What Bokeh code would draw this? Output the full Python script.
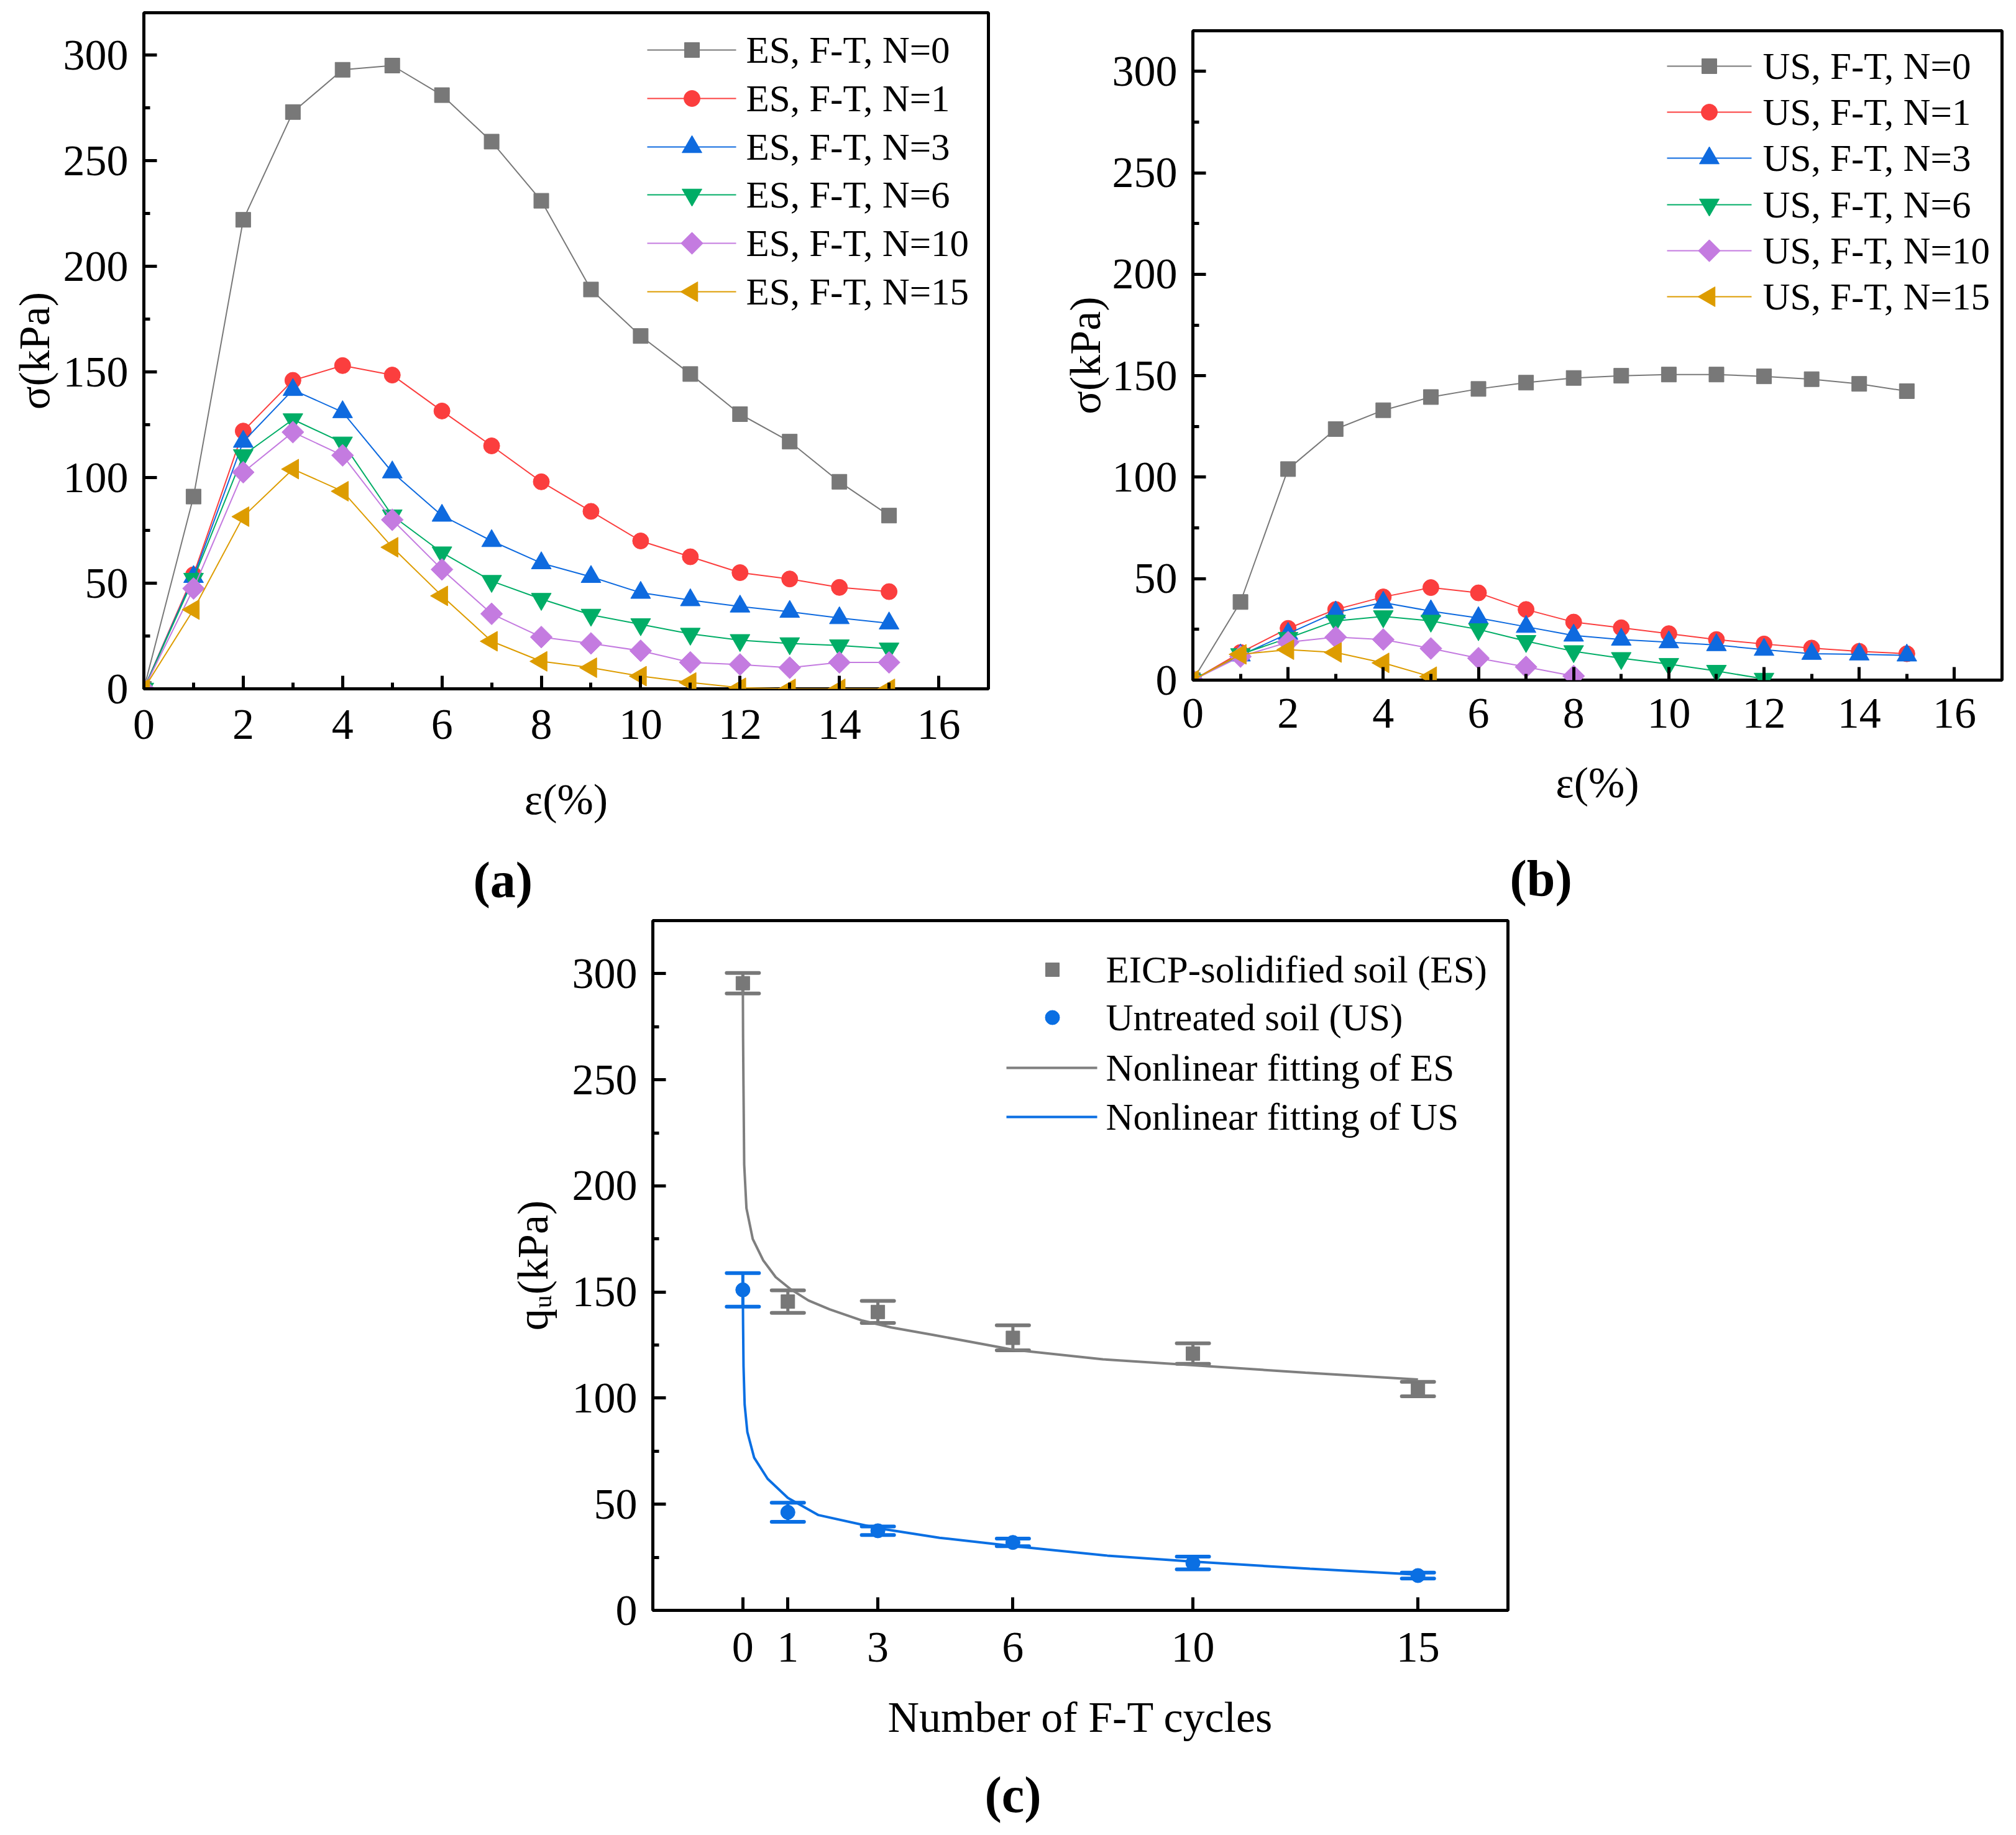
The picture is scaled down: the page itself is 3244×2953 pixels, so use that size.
import numpy as np
from bokeh.plotting import figure
from bokeh.models import (Range1d, SingleIntervalTicker, FixedTicker, Title,
                          Whisker, TeeHead, ColumnDataSource)
from bokeh.core.properties import value
from bokeh.layouts import column, row
from bokeh.embed import file_html
from bokeh.resources import INLINE

FONT = "Liberation Serif"

# ---------------- data ----------------
STRAIN = list(range(16))

ES_N0 = [0, 91, 222, 273, 293, 295, 281, 259, 231, 189, 167, 149, 130, 117, 98, 82]
ES_N1 = [0, 54, 122, 146, 153, 148.5, 131.5, 115, 98, 84, 70, 62.5, 55, 52, 48, 46]
ES_N3 = [0, 53, 117, 141.5, 131, 102.5, 82, 70, 59.5, 53, 45.5, 42, 39, 36.5, 33.5, 31]
ES_N6 = [0, 52, 110.5, 127.5, 116.5, 82, 64.5, 51, 42.5, 35, 30.5, 26, 23, 21.5, 20.5, 19]
ES_N10 = [0, 47.5, 102.5, 121.5, 110.5, 80, 56.5, 35.5, 24.5, 21.5, 18, 12.5, 11.5, 10, 12.5, 12.5]
ES_N15 = [0, 37.5, 81.5, 104, 93.5, 67, 44, 22.5, 13, 10, 6, 3, 0.5, 0, 0, 0]

US_N0 = [0, 38.5, 104, 123.7, 133, 139.5, 143.5, 146.6, 148.9, 150, 150.6, 150.6, 149.7, 148.3, 146, 142.4]
US_N1 = [0, 13.6, 25.5, 34.8, 41, 45.6, 43, 34.8, 28.6, 25.8, 22.9, 20, 17.8, 15.8, 14.2, 13]
US_N3 = [0, 12.2, 22.9, 33.4, 38.2, 34, 30.6, 26.3, 22, 20, 18.7, 17.3, 15, 13, 12.7, 12.2]
US_N6 = [0, 12.7, 20.7, 29.2, 31.4, 29.2, 25, 19.2, 14.2, 10.8, 7.9, 4.5, 0.6]
US_N10 = [0, 11.6, 18.7, 21.2, 20, 15.6, 10.8, 6.5, 2]
US_N15 = [0, 12.7, 15, 13.6, 8.5, 1.7]

ES_SERIES = [ES_N0, ES_N1, ES_N3, ES_N6, ES_N10, ES_N15]
US_SERIES = [US_N0, US_N1, US_N3, US_N6, US_N10, US_N15]
CYCLE_LABELS = ["0", "1", "3", "6", "10", "15"]
ES_NAMES = ["ES, F-T, N=" + n for n in CYCLE_LABELS]
US_NAMES = ["US, F-T, N=" + n for n in CYCLE_LABELS]

CYCLES = [0, 1, 3, 6, 10, 15]
ES_QU = [295.5, 145.5, 140.6, 128.4, 121.0, 104.3]
ES_ERR = [4.8, 5.3, 5.2, 5.9, 4.8, 3.4]
US_QU = [151.0, 46.2, 37.5, 32.0, 22.3, 16.4]
US_ERR = [7.9, 4.5, 2.0, 1.8, 3.0, 1.4]

ES_FIT_X = [0, 0.005, 0.014, 0.03, 0.08, 0.22, 0.45, 0.73, 1.05, 1.46, 1.93, 2.66, 3.3, 4.23, 6, 8, 10, 12.5, 15]
ES_FIT_Y = [295, 270, 247, 210, 189.5, 175, 165, 157, 151.5, 146, 141.8, 136.5, 133.3, 129.8, 122.8, 118.3, 115.5, 112, 108.8]
US_FIT_X = [0, 0.005, 0.015, 0.04, 0.1, 0.25, 0.55, 1.0, 1.68, 3, 4.37, 6, 8.1, 10, 12.6, 15]
US_FIT_Y = [150, 135, 115, 97, 84, 72, 62, 53, 44.9, 38.7, 34.2, 30.3, 25.8, 23, 19.6, 16.8]

C_NAMES = ["EICP-solidified soil (ES)", "Untreated soil (US)",
           "Nonlinear fitting of ES", "Nonlinear fitting of US"]

# ---------------- styles ----------------
COLORS = ["#787878", "#FB3E3E", "#0E6ADF", "#00AD66", "#C47BE0", "#DD9C00"]
MARKERS = [("square", 24, 0.0), ("circle", 26, 0.0), ("triangle", 32, 0.0),
           ("inverted_triangle", 32, 0.0), ("square", 25, np.pi / 4), ("triangle", 32, np.pi / 2)]
GRAY_C = "#787878"
GRAY_L = "#7F7F7F"
BLUE_C = "#0A6FE3"
LEG_SIZE = "61px"
ROW_H = 1472


def style(p, xticker, yticker, x_title, y_title, x_tick_std, x_std, y_std):
    p.xgrid.visible = False
    p.ygrid.visible = False
    p.outline_line_color = "black"
    p.outline_line_width = 5
    p.outline_line_alpha = 1.0
    p.background_fill_color = "white"
    p.border_fill_color = "white"
    p.xaxis[0].ticker = xticker
    p.yaxis[0].ticker = yticker
    for ax in (p.xaxis[0], p.yaxis[0]):
        ax.axis_line_color = None
        ax.major_tick_in = 21
        ax.major_tick_out = 0
        ax.minor_tick_in = 10
        ax.minor_tick_out = 0
        ax.major_tick_line_width = 5
        ax.minor_tick_line_width = 5
        ax.major_tick_line_color = "black"
        ax.minor_tick_line_color = "black"
        ax.major_label_text_font = FONT
        ax.major_label_text_font_size = "70px"
        ax.major_label_text_color = "black"
        ax.axis_label_text_font = FONT
        ax.axis_label_text_font_size = "70px"
        ax.axis_label_text_font_style = "normal"
        ax.axis_label_text_color = "black"
    p.xaxis[0].major_label_standoff = x_tick_std
    p.yaxis[0].major_label_standoff = 25
    p.xaxis[0].axis_label = x_title
    p.yaxis[0].axis_label = y_title
    p.xaxis[0].axis_label_standoff = x_std
    p.yaxis[0].axis_label_standoff = y_std


def caption(p, text, offset, gap):
    # blank (white) spacer title between the axis title and the caption
    p.add_layout(Title(text=" ", standoff=gap, text_font_size="10px", text_color="white"),
                 "below")
    p.add_layout(Title(text=text, align="left", offset=offset, standoff=0,
                       vertical_align="bottom",
                       text_font=FONT, text_font_size="82px", text_font_style="bold",
                       text_color="black"), "below")


def manual_legend(p, fx, fy, rows_y, x_line0, x_line1, x_mark, x_text, names, kinds):
    ys = [fy(Y) for Y in rows_y]
    for yv, name, kind in zip(ys, names, kinds):
        col, line_w, mk = kind
        if line_w:
            p.line([fx(x_line0), fx(x_line1)], [yv, yv], line_color=col, line_width=line_w)
        if mk:
            m, s, a = mk
            p.scatter([fx(x_mark)], [yv], marker=m, size=s, angle=a,
                      fill_color=col, line_color=col)
    p.text([fx(x_text)] * len(ys), ys, text=names, text_font=value(FONT),
           text_font_size=value(LEG_SIZE), text_baseline="middle", text_align="left",
           text_color="black")


def strain_panel(series, names, geo, fig_x0, fig_y0, fig_w, fig_h, x_tick_std, x_std, y_std,
                 leg_rows, leg_x):
    L, T, R, B = geo
    p = figure(width=fig_w, height=fig_h, x_range=Range1d(0, 17), y_range=Range1d(0, 320),
               output_backend="svg", toolbar_location=None,
               min_border_left=L - fig_x0, min_border_top=T - fig_y0,
               min_border_right=fig_x0 + fig_w - R, min_border_bottom=fig_y0 + fig_h - B)
    style(p, SingleIntervalTicker(interval=2, num_minor_ticks=2),
          SingleIntervalTicker(interval=50, num_minor_ticks=2),
          "ε(%)", "σ(kPa)", x_tick_std, x_std, y_std)
    for ys, col, (mk, sz, ang) in zip(series, COLORS, MARKERS):
        xs = STRAIN[:len(ys)]
        p.line(xs, ys, line_color=col, line_width=2)
        p.scatter(xs, ys, marker=mk, size=sz, angle=ang, fill_color=col, line_color=col)
    fx = lambda X: (X - L) * 17.0 / (R - L)
    fy = lambda Y: (B - Y) * 320.0 / (B - T)
    kinds = [(c, 2, m) for c, m in zip(COLORS, MARKERS)]
    manual_legend(p, fx, fy, leg_rows, leg_x[0], leg_x[1], leg_x[2], leg_x[3], names, kinds)
    return p


# ---------- panel (a) ----------
pa = strain_panel(ES_SERIES, ES_NAMES, (231, 20, 1590, 1108), 0, 0, 1700, ROW_H, 34, 56, 5,
                  [80, 158, 236, 313, 391, 469], (1041, 1184, 1113, 1200))
caption(pa, "(a)", 530, 28)

# ---------- panel (b) ----------
pb = strain_panel(US_SERIES, US_NAMES, (1919, 49, 3221, 1094), 1700, 0, 1536, ROW_H, 30, 47, 2,
                  [106, 180, 254, 329, 403, 477], (2682, 2818, 2750, 2836))
caption(pb, "(b)", 510, 52)

# ---------- panel (c) ----------
C_L, C_T, C_R, C_B = 1050, 1481, 2426, 2591
C_X0, C_Y0, C_W, C_H = 0, ROW_H, 2440, 1476
pc = figure(width=C_W, height=C_H, x_range=Range1d(-2, 17), y_range=Range1d(0, 325),
            output_backend="svg", toolbar_location=None,
            min_border_left=C_L - C_X0, min_border_top=C_T - C_Y0,
            min_border_right=C_X0 + C_W - C_R, min_border_bottom=C_Y0 + C_H - C_B)
style(pc, FixedTicker(ticks=CYCLES, minor_ticks=[]),
      SingleIntervalTicker(interval=50, num_minor_ticks=2),
      "Number of F-T cycles", "qᵤ(kPa)", 36, 48, 22)
pc.xaxis[0].major_label_overrides = {c: s for c, s in zip(CYCLES, CYCLE_LABELS)}

es_src = ColumnDataSource(dict(x=CYCLES, y=ES_QU,
                               lo=[v - e for v, e in zip(ES_QU, ES_ERR)],
                               hi=[v + e for v, e in zip(ES_QU, ES_ERR)]))
us_src = ColumnDataSource(dict(x=CYCLES, y=US_QU,
                               lo=[v - e for v, e in zip(US_QU, US_ERR)],
                               hi=[v + e for v, e in zip(US_QU, US_ERR)]))

pc.line(ES_FIT_X, ES_FIT_Y, line_color=GRAY_L, line_width=4)
pc.line(US_FIT_X, US_FIT_Y, line_color=BLUE_C, line_width=4)

for src, col in ((es_src, GRAY_C), (us_src, BLUE_C)):
    w = Whisker(source=src, base="x", lower="lo", upper="hi", dimension="height",
                line_color=col, line_width=5, line_cap="round",
                upper_head=TeeHead(size=52, line_color=col, line_width=6, line_cap="round"),
                lower_head=TeeHead(size=52, line_color=col, line_width=6, line_cap="round"))
    w.level = "underlay"
    pc.add_layout(w)

pc.scatter("x", "y", source=es_src, marker="square", size=22, fill_color=GRAY_C, line_color=GRAY_C)
pc.scatter("x", "y", source=us_src, marker="circle", size=23, fill_color=BLUE_C, line_color=BLUE_C)

fxc = lambda X: (X - C_L) * 19.0 / (C_R - C_L) - 2
fyc = lambda Y: (C_B - Y) * 325.0 / (C_B - C_T)
kinds_c = [(GRAY_C, 0, ("square", 22, 0.0)), (BLUE_C, 0, ("circle", 23, 0.0)),
           (GRAY_L, 4, None), (BLUE_C, 4, None)]
manual_legend(pc, fxc, fyc, [1560, 1637, 1718, 1797], 1619, 1765, 1693, 1779, C_NAMES, kinds_c)
caption(pc, "(c)", 534, 23)

layout = column(row(column(pa), column(pb)), pc)
open("out.html", "w").write(file_html(layout, INLINE, title="F-T cycles"))
